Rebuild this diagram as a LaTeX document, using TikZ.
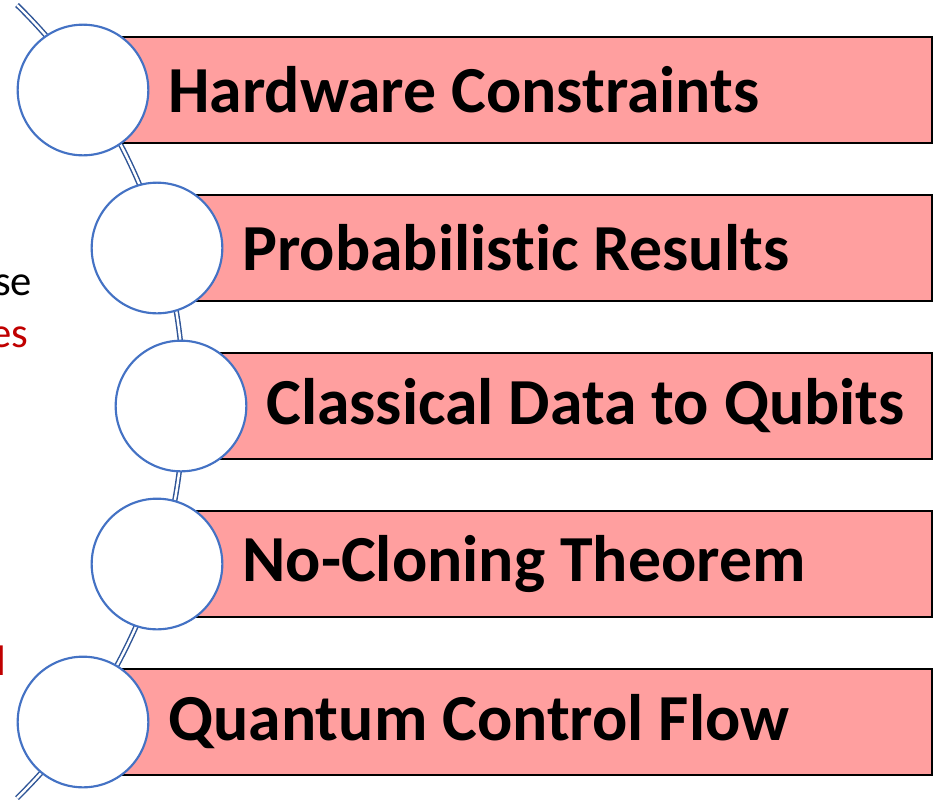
\documentclass[tikz,border=0pt]{standalone}
\usepackage{fontspec}
\setmainfont[Ligatures=NoCommon]{Carlito}
\usetikzlibrary{positioning}
\definecolor{ring}{HTML}{4472C4}
\definecolor{spine}{HTML}{2F5597}
\definecolor{barfill}{HTML}{FF9F9F}
\definecolor{notered}{HTML}{C00000}
\newcommand{\headline}{\fontsize{49.3}{57}\selectfont\bfseries}
\newcommand{\sidenote}{\fontsize{32}{38}\selectfont}
\tikzset{
 every node/.append style={inner sep=0pt,outer sep=0pt},
 disc/.style={circle,draw=ring,fill=white,line width=1.6pt,minimum size=98pt},
 bar/.style={draw=black,fill=barfill,line width=1.5pt,minimum height=79.5pt,anchor=west},
 caption/.style={font=\headline,text=black,anchor=west},
 note/.style={font=\sidenote,anchor=base east},
 rail/.style={draw=spine,line width=1.1pt,double=white,double distance=1.8pt},
}

\begin{document}
\begin{tikzpicture}[x=0.75pt,y=-0.75pt]

\useasboundingbox (0,0) rectangle (941,808);
% centres of the five rings
\coordinate (p1) at (83,90);
\coordinate (p2) at (157,248);
\coordinate (p3) at (181,406);
\coordinate (p4) at (157,564);
\coordinate (p5) at (83,722);
\coordinate (top) at (17,5);
% spine behind the rings
\draw[rail] (top) arc[start angle=45.6,end angle=-45.6,radius=416.25pt];
% cut-off side notes
\node[note,text=black] (n1) at (32,295) {se};
\node[note,text=notered] (n2) at (28,347) {es};
\node[note,text=notered] (n3) at (6,675) {l};
% bars
\node[bar,minimum width=636.75pt] (b1) at (p1) {};
\node[bar,minimum width=581.25pt] (b2) at (p2) {};
\node[bar,minimum width=563.25pt] (b3) at (p3) {};
\node[bar,minimum width=581.25pt] (b4) at (p4) {};
\node[bar,minimum width=636.75pt] (b5) at (p5) {};
% rings
\node[disc] (c1) at (p1) {};
\node[disc] (c2) at (p2) {};
\node[disc] (c3) at (p3) {};
\node[disc] (c4) at (p4) {};
\node[disc] (c5) at (p5) {};
% labels
\node[caption,right=15pt of c1] (t1) {Hardware Constraints};
\node[caption,right=15pt of c2] (t2) {Probabilistic Results};
\node[caption,right=15pt of c3] (t3) {Classical Data to Qubits};
\node[caption,right=15pt of c4] (t4) {No-Cloning Theorem};
\node[caption,right=15pt of c5] (t5) {Quantum Control Flow};
\end{tikzpicture}
\end{document}
